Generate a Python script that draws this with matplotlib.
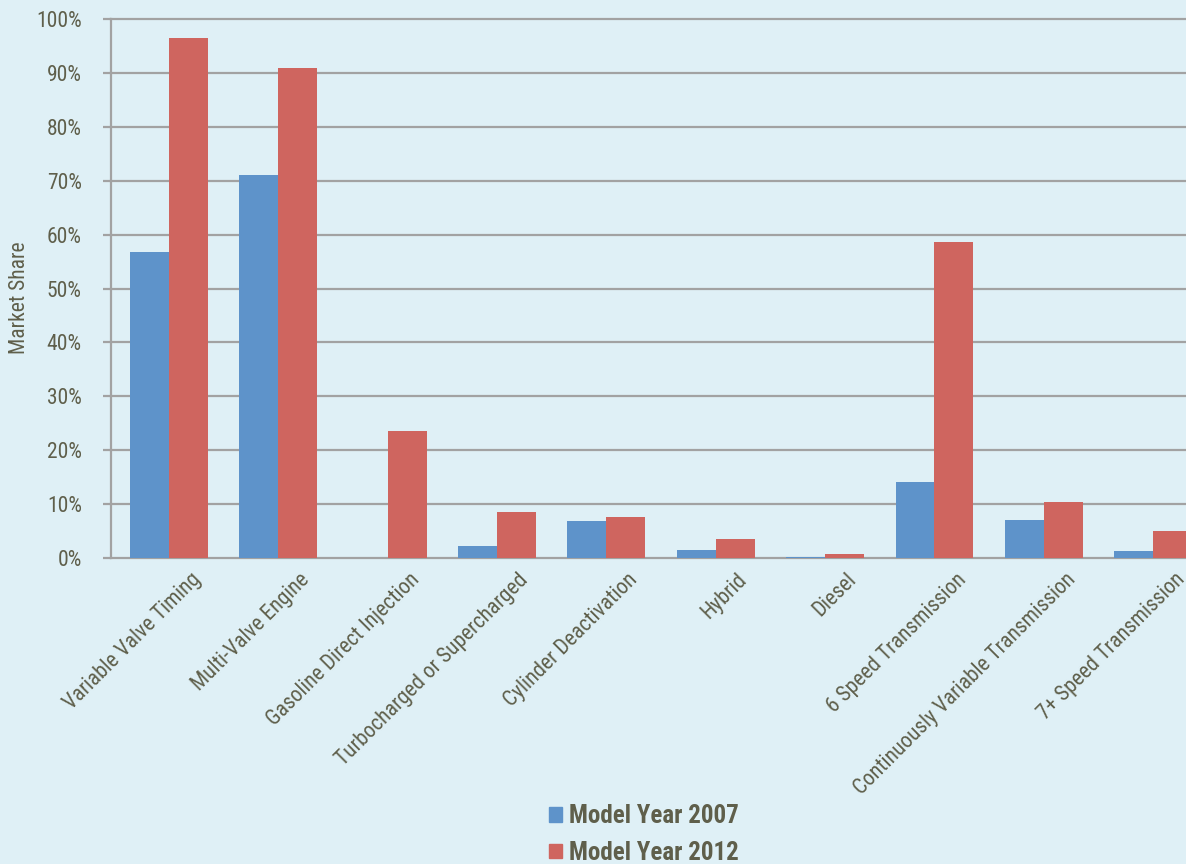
import matplotlib
matplotlib.use("Agg")
import matplotlib.pyplot as plt
import matplotlib.transforms as mtransforms
import numpy as np

# technology market share, model years 2007 vs 2012
technologies = [
    "Variable Valve Timing",
    "Multi-Valve Engine",
    "Gasoline Direct Injection",
    "Turbocharged or Supercharged",
    "Cylinder Deactivation",
    "Hybrid",
    "Diesel",
    "6 Speed Transmission",
    "Continuously Variable Transmission",
    "7+ Speed Transmission",
]
share_2007 = [56.8, 71.1, 0.0, 2.2, 6.9, 1.5, 0.2, 14.1, 7.0, 1.3]
share_2012 = [96.5, 90.9, 23.6, 8.5, 7.6, 3.5, 0.8, 58.6, 10.4, 5.0]
series_labels = ["Model Year 2007", "Model Year 2012"]

bg = "#dff0f6"
blue = "#5e93ca"
red = "#cf655f"
grid_grey = "#a2a2a2"
text_col = "#5f5f4b"

plt.rcParams["font.family"] = ["Roboto Condensed", "DejaVu Sans"]

fig = plt.figure(figsize=(11.86, 8.64), dpi=100, facecolor=bg)
ax = fig.add_axes([0.0936, 0.354, 0.9064, 0.624], facecolor=bg)

x = np.arange(len(technologies))
w = 0.356
ax.bar(x - w / 2, share_2007, w, color=blue, zorder=3)
ax.bar(x + w / 2, share_2012, w, color=red, zorder=3)

ax.set_xlim(-0.53, 9.30)
ax.set_ylim(0, 100)
ax.set_yticks(np.arange(0, 101, 10))
ax.set_yticklabels([f"{v}%" for v in range(0, 101, 10)])
ax.yaxis.grid(True, color=grid_grey, linewidth=1.6, zorder=0)
for gl in ax.get_ygridlines():
    gl.set_clip_on(False)
ax.tick_params(axis="y", length=6, width=1.6, color=grid_grey,
               labelsize=15.5, labelcolor=text_col, pad=15)

for s in ["top", "right", "bottom"]:
    ax.spines[s].set_visible(False)
ax.spines["left"].set_color(grid_grey)
ax.spines["left"].set_linewidth(1.6)

ax.set_xticks(x)
ax.set_xticklabels(technologies, rotation=45, ha="right", rotation_mode="anchor",
                   fontsize=15.5, color=text_col)
ax.tick_params(axis="x", length=0, pad=8)
shift = mtransforms.ScaledTranslation(0.21, 0, fig.dpi_scale_trans)
for lbl in ax.get_xticklabels():
    lbl.set_transform(lbl.get_transform() + shift)

ax.set_ylabel("Market Share", fontsize=15.5, color=text_col)
ax.yaxis.set_label_coords(-0.075, 0.484)

handles = [plt.Rectangle((0, 0), 1, 1, color=c) for c in (blue, red)]
leg = fig.legend(handles, series_labels, loc="center", bbox_to_anchor=(0.543, 0.034),
                 ncol=1, frameon=False, handlelength=0.5, handleheight=0.5,
                 handletextpad=0.3, labelspacing=0.5,
                 prop={"family": ["Roboto Condensed", "DejaVu Sans"],
                       "weight": "bold", "size": 18})
for t in leg.get_texts():
    t.set_color(text_col)

fig.savefig("out.png", dpi=100, facecolor=bg)
